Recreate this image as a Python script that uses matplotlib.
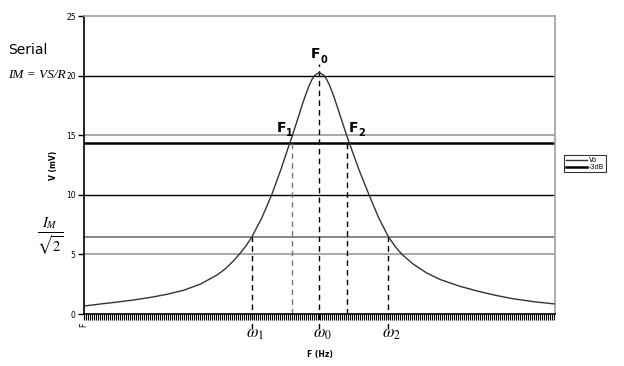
import numpy as np
import matplotlib
matplotlib.use("Agg")
import matplotlib.pyplot as plt

plt.rcParams["mathtext.fontset"] = "stix"

# --- data (x = sample index along F axis) ---
n_cat = 236
f_idx = [0, 8.25, 16.5, 25, 33.5, 41.75, 50, 58.35, 66.5, 70.75, 75, 78.35,
         81.15, 84, 89, 93.85, 98.4, 102.9, 104.25, 106.75, 109, 110.5,
         112.4, 113.85, 115.25, 117.65, 120.05, 121.5, 123, 124.95, 126.4,
         128.75, 131.3, 132.65, 137.5, 142.5, 147.3, 152.15, 155.5, 159,
         164.5, 171.25, 178, 188, 198, 206.25, 214.5, 225, 235.5]
vo = [0.67, 0.84, 1.0, 1.18, 1.40, 1.66, 2.0, 2.52, 3.27, 3.8, 4.5, 5.15,
      5.75, 6.49, 8.1, 10.0, 12.1, 14.35, 15.0, 16.3, 17.5, 18.23,
      19.1, 19.63, 20.0, 20.27, 20.0, 19.63, 19.1, 18.23, 17.5,
      16.3, 15.0, 14.35, 12.1, 10.0, 8.08, 6.5, 5.68, 5.0,
      4.2, 3.45, 2.9, 2.32, 1.87, 1.55, 1.28, 1.03, 0.84]
minus3db = 14.35
im_level = 6.5
grid_black = [10, 20]
grid_grey = [5, 15]

w1, f1, f0, f2, w2 = 84, 104, 117.65, 131.6, 152.15
v_w1, v_f1, v_f0, v_f2, v_w2 = 6.5, 14.6, 21.0, 14.6, 6.5

fig = plt.figure(figsize=(6.24, 3.66), dpi=100)
ax = fig.add_axes([84/624, 1-314/366, 471/624, 298/366])

for g in grid_black:
    ax.axhline(g, color="black", lw=1.0, zorder=1)
for g in grid_grey:
    ax.axhline(g, color="#999999", lw=1.2, zorder=1)
ax.axhline(im_level, color="#666666", lw=1.1, zorder=1)

ax.plot(f_idx, vo, color="#333333", lw=1.0, label="Vo", zorder=3)
ax.axhline(minus3db, color="black", lw=1.8, label="-3dB", zorder=2)

# dashed markers
dash = (0, (4, 3))
ax.plot([w1, w1], [-1.3, v_w1], color="black", lw=1, ls=dash, clip_on=False)
ax.plot([w2, w2], [-1.3, v_w2], color="black", lw=1, ls=dash, clip_on=False)
ax.plot([f0, f0], [-1.3, v_f0], color="black", lw=1, ls=dash, clip_on=False)
ax.plot([f1, f1], [0, v_f1], color="#777777", lw=1, ls=dash)
ax.plot([f2, f2], [0, v_f2], color="black", lw=1, ls=dash)

ax.set_xlim(0, n_cat - 0.5)
ax.set_ylim(0, 25)
ax.set_yticks([0, 5, 10, 15, 20, 25])
ax.tick_params(axis="y", labelsize=5.5, length=4, width=1, direction="out", pad=2)
ax.set_xticks([0])
ax.set_xticklabels(["F"], rotation=90, fontsize=5.5)
ax.set_xticks(np.arange(0, n_cat), minor=True)
ax.tick_params(axis="x", which="major", length=4, width=0.8, pad=2)
ax.tick_params(axis="x", which="minor", length=4, width=0.8)

for s in ["top", "right"]:
    ax.spines[s].set_color("#a0a0a0")
    ax.spines[s].set_linewidth(1.2)
for s in ["left", "bottom"]:
    ax.spines[s].set_color("black")
    ax.spines[s].set_linewidth(1.2)

ax.set_xlabel("F (Hz)", fontsize=5.5, fontweight="bold", labelpad=17)
ax.set_ylabel("V (mV)", fontsize=5.5, fontweight="bold", labelpad=6)


def f_label(x, y, sub):
    ax.text(x, y, "F", ha="center", va="center", fontsize=10, fontweight="bold")
    ax.text(x + 4.0, y - 0.45, sub, ha="center", va="center", fontsize=7,
            fontweight="bold")


f_label(f0 - 1.8, 21.8, "0")
f_label(f1 - 5.2, 15.6, "1")
f_label(f2 + 3.3, 15.6, "2")

for xx, lab in [(w1, r"$\omega_1$"), (f0, r"$\omega_0$"), (w2, r"$\omega_2$")]:
    ax.text(xx + 1.5, -1.6, lab, ha="center", va="center", fontsize=12, clip_on=False)

fig.text(8/624, 1-50/366, "Serial", fontsize=10, ha="left", va="center")
fig.text(8/624, 1-75/366, "IM = VS/R", fontsize=9.5, ha="left", va="center",
         fontfamily="Liberation Serif", style="italic")
fig.text(50/624, 1-237/366, r"$\frac{I_M}{\sqrt{2}}$", fontsize=15, ha="center", va="center")

leg = ax.legend(loc="upper left", bbox_to_anchor=(561/624, 1-152/366),
                bbox_transform=fig.transFigure, fontsize=4.8, frameon=True,
                fancybox=False, edgecolor="black", handlelength=3.2,
                handletextpad=0.2, borderpad=0.25, labelspacing=0.15)
leg.get_frame().set_linewidth(0.8)

fig.savefig("out.png", dpi=100)
